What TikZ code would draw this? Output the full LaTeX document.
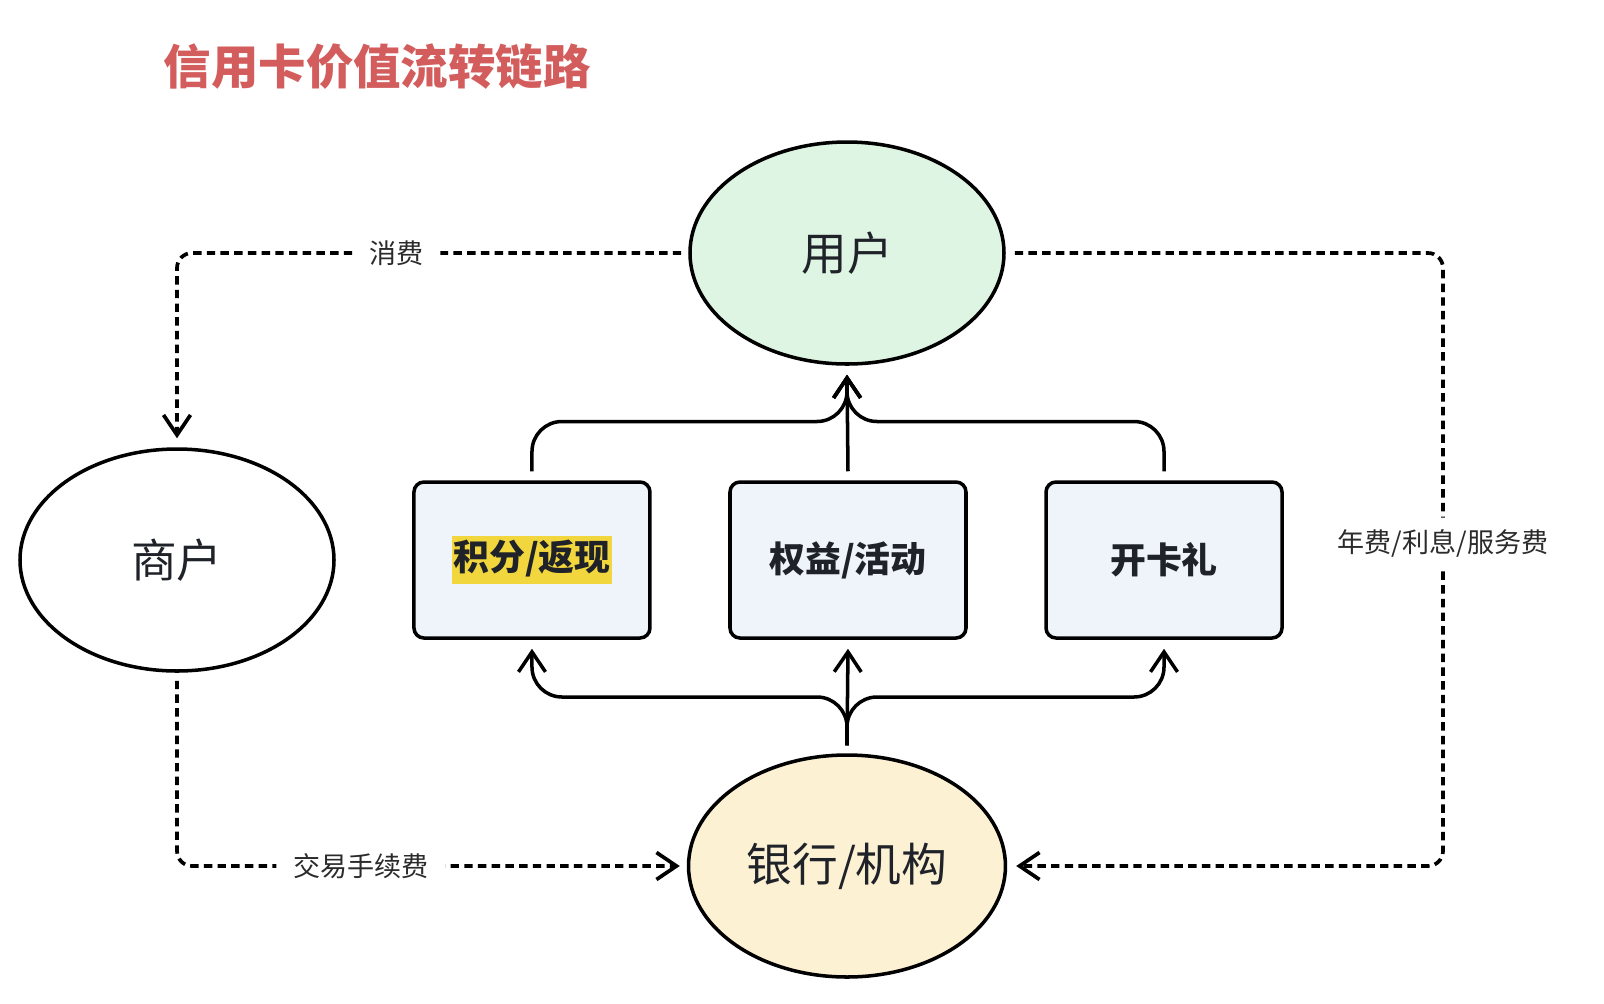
\documentclass[tikz,border=0pt]{standalone}
\usepackage{fontspec}
\setmainfont{Noto Sans CJK SC}
\usetikzlibrary{arrows.meta,positioning,shapes.geometric}

\definecolor{titlered}{HTML}{D35D5D}
\definecolor{userfill}{HTML}{DFF5E4}
\definecolor{bankfill}{HTML}{FDF1D3}
\definecolor{boxblue}{HTML}{EFF4FB}
\definecolor{hlyellow}{HTML}{F1D63D}
\definecolor{inkdark}{HTML}{1F2329}
\definecolor{inkgray}{HTML}{2B2B2B}

\newcommand{\hlmark}[1]{{\setlength{\fboxsep}{0.5pt}\colorbox{hlyellow}{\rule[-0.33em]{0pt}{1.22em}#1}}}

\tikzset{
	party/.style={ellipse, draw, line width=1pt, minimum width=3.14cm, minimum height=2.22cm,
		font=\fontsize{13}{15}\selectfont, text=inkdark},
	perkbox/.style={draw, rounded corners=0.1cm, line width=1pt, fill=boxblue,
		minimum width=2.36cm, minimum height=1.56cm, font=\bfseries\fontsize{10.2}{12}\selectfont, text=inkdark},
	flow/.style={line width=1pt, rounded corners=0.3cm, -{Straight Barb[length=0.2cm,width=0.27cm]}},
	feeflow/.style={line width=1.05pt, dash pattern=on 2.4pt off 1.5pt, rounded corners=0.15cm,
		-{Straight Barb[length=0.2cm,width=0.27cm]}},
	feelabel/.style={fill=white, font=\fontsize{7.7}{9}\selectfont, text=inkgray, inner xsep=0.17cm, inner ysep=0.12cm}
}

\begin{document}
\begin{tikzpicture}
	\useasboundingbox (0,0) rectangle (16.04,-10.04);
	\node[anchor=west, inner sep=0, font=\bfseries\fontsize{13.5}{16}\selectfont, text=titlered] (title) at (1.63,-0.67) {信用卡价值流转链路};

	\node[party, fill=userfill] (user) at (8.47,-2.53) {用户};
	\node[party, fill=white] (merchant) at (1.77,-5.6) {商户};
	\node[party, fill=bankfill] (bank) at (8.47,-8.66) {银行/机构};

	\node[perkbox] (benefit) at (8.48,-5.6) {权益/活动};
	\node[perkbox, left=0.765cm of benefit] (points) {\hlmark{积分/返现}};
	\node[perkbox, right=0.765cm of benefit] (gift) {开卡礼};

	% up to the user
	\draw[flow] ([yshift=0.09cm]points.north) |- (8.47,-4.215) -- ([yshift=-0.09cm]user.south);
	\draw[flow] ([yshift=0.09cm]benefit.north) -- ([yshift=-0.09cm]user.south);
	\draw[flow] ([yshift=0.09cm]gift.north) |- (8.47,-4.215) -- ([yshift=-0.09cm]user.south);

	% from the bank
	\draw[flow] ([yshift=0.08cm]bank.north) -- (8.47,-6.97) -| ([yshift=-0.09cm]points.south);
	\draw[flow] ([yshift=0.08cm]bank.north) -- ([yshift=-0.09cm]benefit.south);
	\draw[flow] ([yshift=0.08cm]bank.north) -- (8.47,-6.97) -| ([yshift=-0.09cm]gift.south);

	% money around the outside
	\draw[feeflow] ([xshift=-0.07cm]user.west) -- node[feelabel, pos=0.565] (spend) {消费} (1.77,-2.53) -- ([yshift=0.09cm]merchant.north);
	\draw[feeflow] ([yshift=-0.08cm]merchant.south) |- node[feelabel, pos=0.683] (fee) {交易手续费} ([xshift=-0.07cm]bank.west);
	\draw[feeflow] ([xshift=0.09cm]user.east) -| node[feelabel, pos=0.737] (annual) {年费/利息/服务费} (14.43,-8.66) -- ([xshift=0.09cm]bank.east);
\end{tikzpicture}
\end{document}
